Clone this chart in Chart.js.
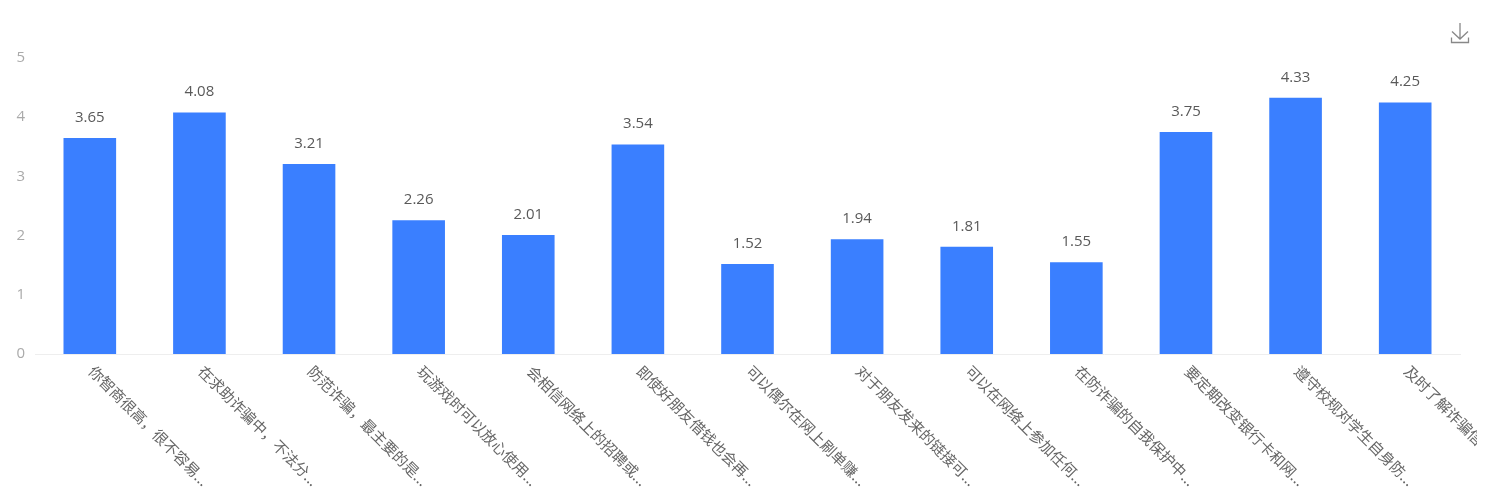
<!DOCTYPE html>
<html><head><meta charset="utf-8">
<style>html,body{margin:0;padding:0;background:#fff;overflow:hidden}
#wrap{position:relative;width:1504px;height:501px}
canvas{position:absolute;left:0;top:0}
#dl{position:absolute;left:1449px;top:22px}</style>
<script src="https://cdn.jsdelivr.net/npm/chart.js@4"></script>
</head><body>
<div id="wrap"><canvas id="c" width="1477" height="501"></canvas>
<svg id="dl" width="22" height="24" viewBox="0 0 22 24" fill="none" stroke="#888" stroke-width="1.3"><path d="M11 1V17M3 9.5L11 17L19 9.5M2.5 15.5V20.5H19.5V15.5"/></svg></div>
<script>
const categories = ["你智商很高，很不容易...","在求助诈骗中，不法分...","防范诈骗，最主要的是...","玩游戏时可以放心使用...","会相信网络上的招聘或...","即使好朋友借钱也会再...","可以偶尔在网上刷单赚...","对于朋友发来的链接可...","可以在网络上参加任何...","在防诈骗的自我保护中...","要定期改变银行卡和网...","遵守校规对学生自身防...","及时了解诈骗信息真实..."];
const values = [3.65,4.08,3.21,2.26,2.01,3.54,1.52,1.94,1.81,1.55,3.75,4.33,4.25];
const FONT = '"Noto Sans CJK SC","Open Sans",sans-serif';
const valueLabels = {
  id:'valueLabels',
  afterDatasetsDraw(chart){
    const ctx = chart.ctx;
    ctx.save();
    ctx.font = '15px "Open Sans",sans-serif';
    ctx.fillStyle = '#595959';
    ctx.textAlign = 'center';
    ctx.textBaseline = 'alphabetic';
    chart.getDatasetMeta(0).data.forEach((bar,i)=>{
      ctx.fillText(values[i].toFixed(2), bar.x, bar.y-16);
    });
    ctx.restore();
  }
};
new Chart(document.getElementById('c'),{
  type:'bar',
  data:{labels:categories,datasets:[{data:values,backgroundColor:'#3a7fff',barPercentage:0.48,categoryPercentage:1}]},
  options:{
    responsive:false,animation:false,devicePixelRatio:1,
    layout:{padding:{top:58,left:0,right:17,bottom:0}},
    plugins:{legend:{display:false},tooltip:{enabled:false}},
    scales:{
      x:{
        grid:{display:false,drawTicks:false},
        border:{color:'#eeeeee',width:1},
        ticks:{autoSkip:false,minRotation:-45,maxRotation:-45,padding:8,labelOffset:1.5,color:'#666',font:{family:FONT,size:15}},
        afterFit(s){s.height=147;s.paddingLeft=0;s.paddingRight=0;s._getXAxisLabelAlignment=()=>'left';}
      },
      y:{
        min:0,max:5,
        grid:{display:false,drawTicks:false},
        border:{display:false},
        ticks:{stepSize:1,padding:10,color:'#aaaaaa',font:{family:'"Open Sans",sans-serif',size:15}},
        afterFit(s){s.width=35;}
      }
    }
  },
  plugins:[valueLabels]
});
</script></body></html>
